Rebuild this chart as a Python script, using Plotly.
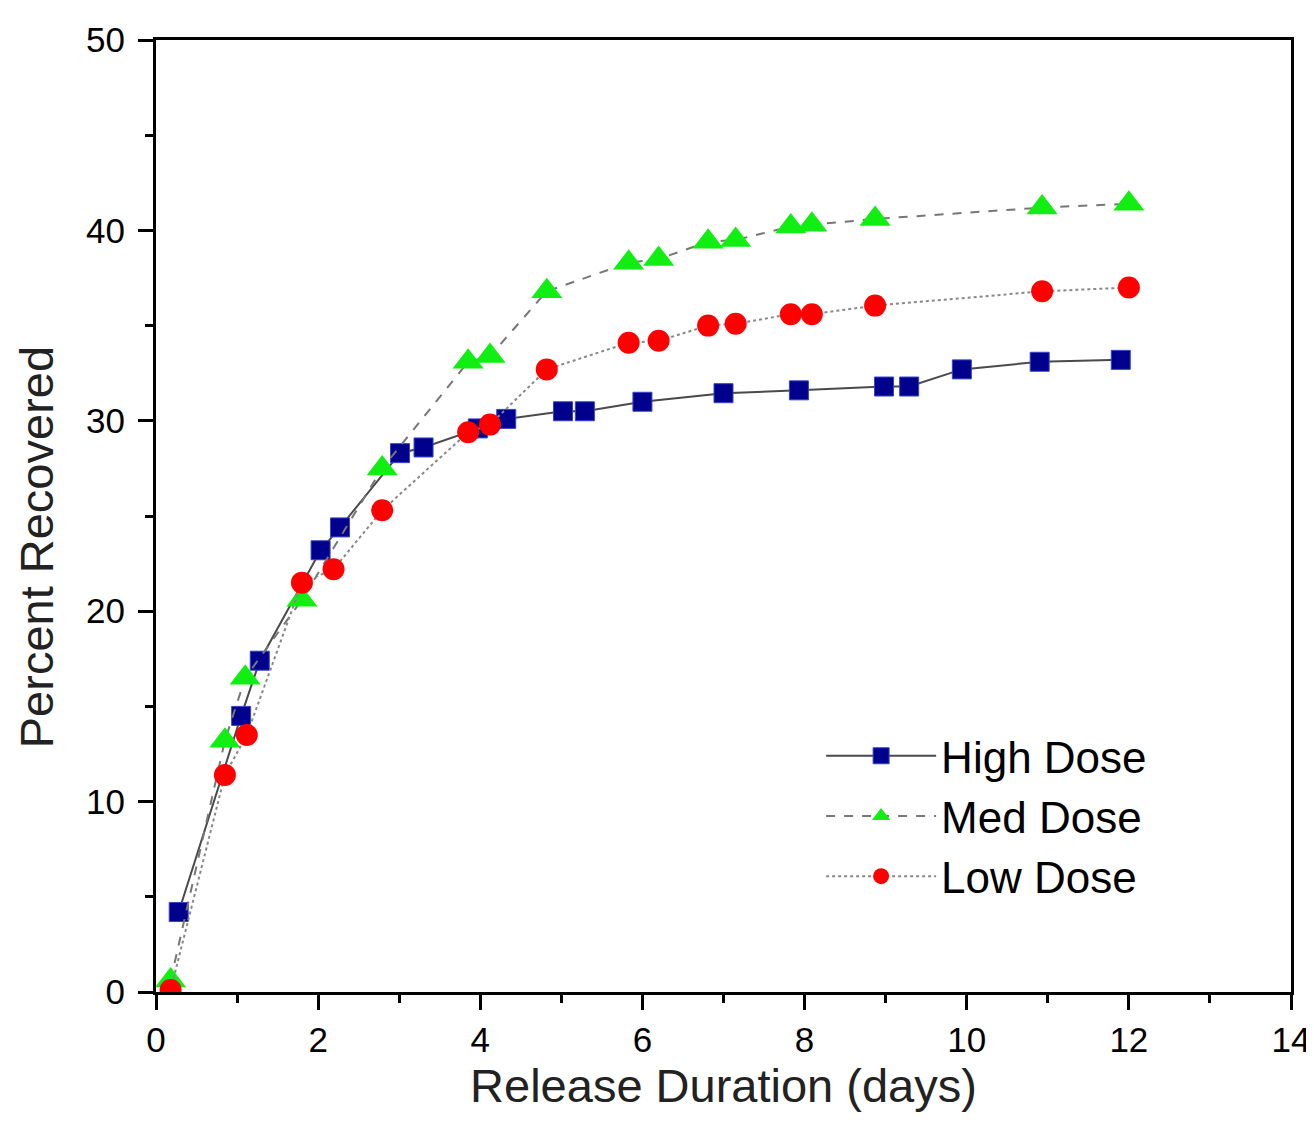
import plotly.graph_objects as go

high_x = [0.28, 1.05, 1.28, 2.03, 2.27, 3.01, 3.30, 3.97, 4.32, 5.02, 5.29, 6.00, 7.00, 7.93, 8.98, 9.29, 9.94, 10.90, 11.90]
high_y = [4.2, 14.5, 17.4, 23.2, 24.4, 28.3, 28.6, 29.6, 30.1, 30.5, 30.5, 31.0, 31.45, 31.6, 31.8, 31.8, 32.7, 33.1, 33.2]

med_x = [0.18, 0.85, 1.10, 1.80, 2.79, 3.85, 4.12, 4.82, 5.83, 6.20, 6.81, 7.15, 7.83, 8.09, 8.87, 10.93, 12.00]
med_y = [0.6, 13.2, 16.5, 20.6, 27.5, 33.1, 33.4, 36.8, 38.3, 38.5, 39.4, 39.5, 40.2, 40.3, 40.6, 41.2, 41.4]

low_x = [0.18, 0.85, 1.12, 1.80, 2.19, 2.79, 3.85, 4.12, 4.82, 5.83, 6.20, 6.81, 7.15, 7.83, 8.09, 8.87, 10.93, 12.00]
low_y = [0.1, 11.4, 13.5, 21.5, 22.2, 25.3, 29.4, 29.8, 32.7, 34.1, 34.2, 35.0, 35.1, 35.6, 35.6, 36.05, 36.8, 37.0]

x_ticks = [0, 2, 4, 6, 8, 10, 12, 14]
y_ticks = [0, 10, 20, 30, 40, 50]

x_title = "Release Duration (days)"
y_title = "Percent Recovered"

FONT = "Liberation Sans, Arial, sans-serif"

fig = go.Figure()
fig.add_trace(go.Scatter(
    x=high_x, y=high_y, name="High Dose", mode="lines+markers",
    line=dict(color="#4a4a4a", width=2, dash="solid"),
    marker=dict(symbol="square", size=19, color="#00008C", line=dict(color="#3344CC", width=1)),
))
fig.add_trace(go.Scatter(
    x=med_x, y=med_y, name="Med Dose", mode="lines+markers",
    line=dict(color="#777777", width=2, dash="dash"),
    marker=dict(symbol="triangle-up", size=27, color="#11EE11", line=dict(color="#11EE11", width=0)),
))
fig.add_trace(go.Scatter(
    x=low_x, y=low_y, name="Low Dose", mode="lines+markers",
    line=dict(color="#888888", width=2, dash="dot"),
    marker=dict(symbol="circle", size=22, color="#FF0000", line=dict(color="#EE1111", width=0)),
))

axis_common = dict(
    showline=True, linecolor="black", linewidth=3, mirror=True,
    ticks="outside", tickwidth=3, ticklen=15, tickcolor="black",
    showgrid=False, zeroline=False, ticklabeloverflow="allow",
    tickfont=dict(family=FONT, size=35, color="black"),
)

fig.update_xaxes(
    range=[0, 14], tickvals=x_ticks, ticktext=[str(v) for v in x_ticks],
    title=dict(text=x_title, font=dict(family=FONT, size=47, color="#222222"), standoff=12),
    minor=dict(dtick=1, ticks="outside", ticklen=8, tickwidth=3, tickcolor="black"),
    **axis_common,
)
fig.update_yaxes(
    range=[0, 50], tickvals=y_ticks, ticktext=[str(v) for v in y_ticks],
    ticklabelstandoff=6,
    minor=dict(dtick=5, ticks="outside", ticklen=8, tickwidth=3, tickcolor="black"),
    **axis_common,
)

fig.add_annotation(
    text=y_title, textangle=-90, showarrow=False,
    xref="paper", yref="paper", x=-0.105, y=0.467,
    xanchor="center", yanchor="middle",
    font=dict(family=FONT, size=47, color="#222222"),
)

fig.update_layout(
    width=1314, height=1140,
    margin=dict(l=148, r=27, t=23, b=156),
    paper_bgcolor="white", plot_bgcolor="white",
    showlegend=True,
    legend=dict(
        x=0.586, y=0.285, xanchor="left", yanchor="top",
        font=dict(family=FONT, size=44, color="black"),
        bgcolor="rgba(0,0,0,0)", itemwidth=110, tracegroupgap=0,
    ),
)

fig.write_html("out.html")
